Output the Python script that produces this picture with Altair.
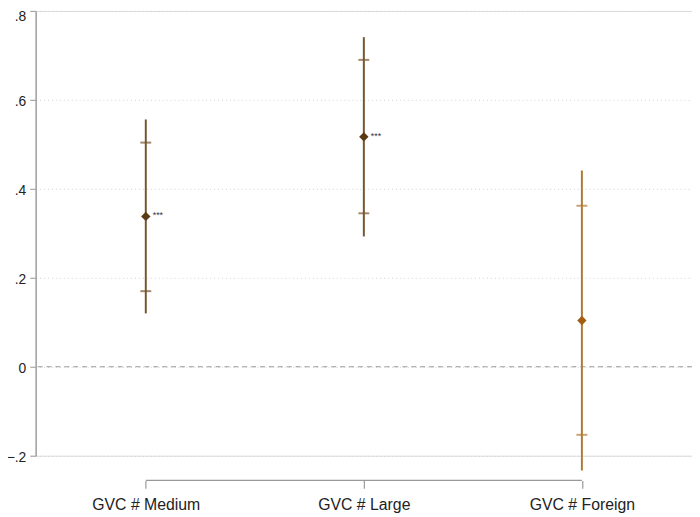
import altair as alt
import pandas as pd

categories = ["GVC # Medium", "GVC # Large", "GVC # Foreign"]
coef = [0.338, 0.517, 0.104]
ci95_lo = [0.120, 0.293, -0.233]
ci95_hi = [0.556, 0.741, 0.441]
ci90_lo = [0.170, 0.345, -0.153]
ci90_hi = [0.504, 0.690, 0.362]
stars = ["***", "***", ""]
line_colors = ["#75562f", "#75562f", "#b07a34"]
point_colors = ["#5a3a14", "#5a3a14", "#a05f14"]
y_ticks = [-0.2, 0, 0.2, 0.4, 0.6, 0.8]

df = pd.DataFrame({
    "cat": categories, "coef": coef,
    "lo95": ci95_lo, "hi95": ci95_hi,
    "lo90": ci90_lo, "hi90": ci90_hi,
    "stars": stars,
})

font = "Liberation Sans"

xscale = alt.Scale(type="point", domain=categories, padding=0.505)
yscale = alt.Scale(domain=[-0.2, 0.8], nice=False, zero=False)
lcol = alt.Color("cat:N", scale=alt.Scale(domain=categories, range=line_colors), legend=None)
pcol = alt.Color("cat:N", scale=alt.Scale(domain=categories, range=point_colors), legend=None)

xaxis = alt.Axis(title=None, domain=False, ticks=True, tickSize=8, tickColor="#999999",
                 tickWidth=1.2, offset=25, labelFontSize=16, labelFont=font,
                 labelColor="#222222", labelPadding=8, labelAngle=0, grid=False)
yaxis = alt.Axis(title=None, values=y_ticks, domain=True, domainColor="#a6a6a6",
                 domainWidth=1.6, tickColor="#a6a6a6", tickSize=6, tickWidth=1.2,
                 labelFontSize=14, labelFont=font, labelColor="#222222", labelPadding=4,
                 labelOffset={"condition": {"test": "datum.value > 0.75", "value": 6}, "value": 2},
                 labelExpr="datum.value == 0 ? '0' : replace(format(datum.value, '.1f'), '0.', '.')",
                 grid=True, gridColor="#d0d0d0", gridDash=[1, 3], gridWidth=1)

base = alt.Chart(df)

zero = alt.Chart(pd.DataFrame({"z": [0]})).mark_rule(
    color="#9a9a9a", strokeDash=[5, 4], strokeWidth=1.2
).encode(y=alt.Y("z:Q", scale=yscale, axis=yaxis))

ci = base.mark_rule(strokeWidth=2).encode(
    x=alt.X("cat:N", scale=xscale, axis=xaxis, sort=categories),
    y=alt.Y("lo95:Q", scale=yscale),
    y2="hi95:Q",
    color=lcol,
)
cap_lo = base.mark_tick(size=11, thickness=2, orient="horizontal").encode(
    x=alt.X("cat:N", scale=xscale, sort=categories),
    y=alt.Y("lo90:Q", scale=yscale),
    color=lcol,
)
cap_hi = base.mark_tick(size=11, thickness=2, orient="horizontal").encode(
    x=alt.X("cat:N", scale=xscale, sort=categories),
    y=alt.Y("hi90:Q", scale=yscale),
    color=lcol,
)
pts = base.mark_point(shape="diamond", filled=True, size=90, opacity=1).encode(
    x=alt.X("cat:N", scale=xscale, sort=categories),
    y=alt.Y("coef:Q", scale=yscale),
    color=pcol,
)
txt = base.mark_text(align="left", dx=7, dy=-1, fontSize=9, font=font, color="#333344").encode(
    x=alt.X("cat:N", scale=xscale, sort=categories),
    y=alt.Y("coef:Q", scale=yscale),
    text="stars:N",
)
axis_line = alt.Chart(pd.DataFrame({"a": [categories[0]], "b": [categories[-1]]})).mark_rule(
    color="#999999", strokeWidth=1.2
).encode(
    x=alt.X("a:N", scale=xscale),
    x2="b:N",
    y=alt.value(475),
)

chart = alt.layer(zero, ci, cap_lo, cap_hi, pts, txt, axis_line).resolve_scale(
    color="independent"
).properties(
    width=664, height=450,
    autosize=alt.AutoSizeParams(type="none"),
    padding={"left": 28, "top": 0, "right": 0, "bottom": 58},
).configure_view(stroke=None).configure(background="white")

chart.save("out.html", embed_options={"renderer": "svg", "actions": False})
